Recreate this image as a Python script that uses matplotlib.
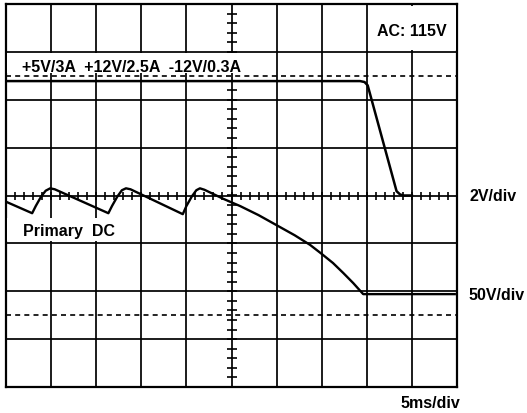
import numpy as np
import matplotlib
matplotlib.use('Agg')
import matplotlib.pyplot as plt
from matplotlib.patches import Rectangle

plt.rcParams['font.family'] = ['Liberation Sans', 'DejaVu Sans']

# screen divisions
x_divs = list(range(0, 11))
y_divs = list(range(-4, 5))
ref_levels = [2.5, -2.5]

# output rail trace (2V/div)
out_t = [0.0, 7.85, 7.95, 8.02, 8.66, 8.74, 8.82, 9.0]
out_v = [2.39, 2.39, 2.37, 2.30, 0.09, 0.02, 0.0, 0.0]

# primary DC bulk voltage (50V/div)
prim_t = [0.0, 0.58, 0.66, 0.78, 0.88, 0.98, 1.08, 2.27, 2.35, 2.47, 2.57, 2.66, 2.76,
          3.92, 4.0, 4.12, 4.22, 4.30, 4.40, 4.82, 5.19, 5.6, 6.0, 6.4, 6.74, 7.0,
          7.25, 7.48, 7.7, 7.92, 9.95]
prim_v = [-0.13, -0.37, -0.22, -0.02, 0.10, 0.15, 0.13, -0.37, -0.22, -0.02, 0.11, 0.15, 0.13,
          -0.39, -0.22, -0.02, 0.11, 0.15, 0.12, -0.07, -0.22, -0.41, -0.62, -0.83, -1.03, -1.22,
          -1.41, -1.62, -1.83, -2.06, -2.06]

fig = plt.figure(figsize=(5.27, 4.14), dpi=100)
ax = fig.add_axes([6/527, 26/414, 451/527, 383/414])
ax.set_xlim(0, 10)
ax.set_ylim(-4, 4)
ax.set_xticks([])
ax.set_yticks([])
for s in ax.spines.values():
    s.set_linewidth(1.6)

# graticule
for x in x_divs:
    ax.axvline(x, color='k', lw=1.25, zorder=1)
for y in y_divs:
    ax.axhline(y, color='k', lw=1.25, zorder=1)

# minor ticks on the centre cross
minor = np.arange(0, 10.01, 0.2)
ax.plot(minor, np.zeros_like(minor), ls='none', marker='|', ms=6, mew=1.2, color='k', zorder=1)
minor_y = np.arange(-4, 4.01, 0.2)
ax.plot(np.full_like(minor_y, 5.0), minor_y, ls='none', marker='_', ms=7.5, mew=1.2, color='k', zorder=1)

for lev in ref_levels:
    ax.axhline(lev, color='k', lw=1.2, ls=(0, (3, 2.5)), zorder=2)

# label boxes hiding the graticule
ax.add_patch(Rectangle((0.02, 2.56), 5.3, 0.41, facecolor='white', edgecolor='none', zorder=3))
ax.add_patch(Rectangle((8.05, 3.04), 1.92, 0.92, facecolor='white', edgecolor='none', zorder=3))
ax.add_patch(Rectangle((0.02, -0.96), 2.9, 0.5, facecolor='white', edgecolor='none', zorder=3))

ax.plot(out_t, out_v, color='k', lw=1.8, zorder=4)
ax.plot(prim_t, prim_v, color='k', lw=1.7, zorder=4)

tk = dict(fontsize=11.5, fontweight='bold', color='k', zorder=5)
ax.text(0.35, 2.69, '+5V/3A  +12V/2.5A  -12V/0.3A', ha='left', va='center', **tk)
ax.text(8.99, 3.45, 'AC: 115V', ha='center', va='center', **tk)
ax.text(0.38, -0.73, 'Primary  DC', ha='left', va='center', **tk)
ax.text(10.28, 0.0, '2V/div', ha='left', va='center', clip_on=False, **tk)
ax.text(10.26, -2.06, '50V/div', ha='left', va='center', clip_on=False, **tk)
ax.text(10.07, -4.32, '5ms/div', ha='right', va='center', clip_on=False, **tk)

fig.savefig('out.png', dpi=100)
